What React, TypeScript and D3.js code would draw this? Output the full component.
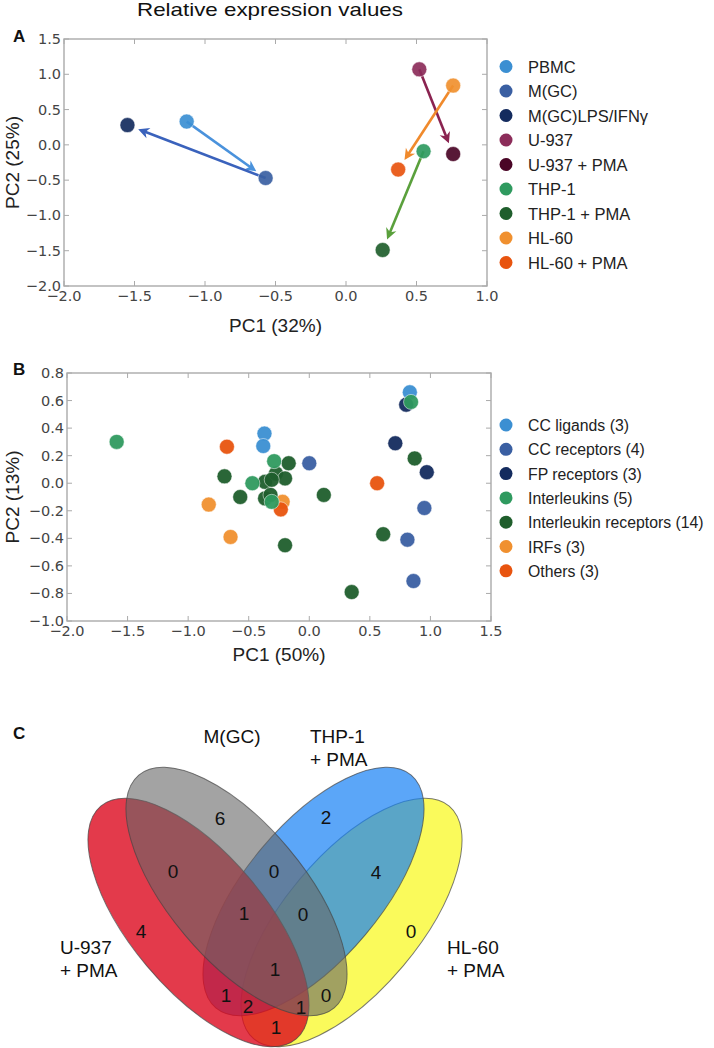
import React from "react";
import * as d3 from "d3";

// ---- panel A: PCA of samples (relative expression)
const sampleNames = [
  "PBMC",
  "M(GC)",
  "M(GC)LPS/IFNγ",
  "U-937",
  "U-937 + PMA",
  "THP-1",
  "THP-1 + PMA",
  "HL-60",
  "HL-60 + PMA"
];
const samplePC1 = [-1.13, -0.57, -1.55, 0.52, 0.76, 0.55, 0.26, 0.76, 0.37];
const samplePC2 = [0.33, -0.47, 0.28, 1.07, -0.13, -0.09, -1.49, 0.84, -0.35];
// arrows: from -> to
const sampleShifts = [
  ["PBMC", "M(GC)"],
  ["M(GC)", "M(GC)LPS/IFNγ"],
  ["U-937", "U-937 + PMA"],
  ["HL-60", "HL-60 + PMA"],
  ["THP-1", "THP-1 + PMA"]
];

// ---- panel B: PCA of genes
const geneGroups = [
  "CC ligands (3)",
  "CC receptors (4)",
  "FP receptors (3)",
  "Interleukins (5)",
  "Interleukin receptors (14)",
  "IRFs (3)",
  "Others (3)"
];
const ccLigands = [[0.83, 0.66], [-0.37, 0.36], [-0.38, 0.27]];
const ccReceptors = [[0.0, 0.145], [0.95, -0.18], [0.81, -0.41], [0.86, -0.71]];
const fpReceptors = [[0.8, 0.57], [0.71, 0.29], [0.97, 0.08]];
const interleukins = [[-1.59, 0.3], [0.84, 0.59], [-0.29, 0.16], [-0.47, 0.0], [-0.31, -0.135]];
const interleukinReceptors = [
  [-0.17, 0.145], [-0.7, 0.05], [-0.365, 0.01], [-0.275, 0.07], [-0.2, 0.035],
  [-0.57, -0.1], [-0.365, -0.11], [-0.32, -0.085], [-0.31, 0.025], [0.12, -0.085],
  [-0.2, -0.45], [0.87, 0.18], [0.61, -0.37], [0.35, -0.79]
];
const irfs = [[-0.83, -0.155], [-0.65, -0.39], [-0.22, -0.135]];
const others = [[-0.68, 0.265], [-0.235, -0.19], [0.56, 0.0]];
const geneData = [ccLigands, ccReceptors, fpReceptors, interleukins, interleukinReceptors, irfs, others];
// drawing order (later on top)
const geneDrawOrder = [0, 1, 2, 5, 6, 4, 3];

// ---- panel C: Venn
const vennSetNames = [["U-937", "+ PMA"], ["M(GC)"], ["THP-1", "+ PMA"], ["HL-60", "+ PMA"]];
const vennRegions = ["A", "B", "C", "D", "AB", "BC", "CD", "ABC", "BCD", "ABCD", "AC", "ACD", "BD", "ABD", "AD"];
const vennCounts = [4, 6, 2, 0, 0, 0, 4, 1, 0, 1, 1, 2, 0, 1, 1];

// ---- styles / layout
const sampleColors = ["#3b8fd2", "#3a5fa2", "#142b5e", "#8c2d5a", "#4a0526", "#2f9a5f", "#1f5e2c", "#f0902f", "#e8540f"];
const arrowColors = ["#4a92dc", "#3a62bc", "#8a2350", "#f08a2c", "#5aa03c"];
const groupColors = ["#3b8fd2", "#3a5fa2", "#142b5e", "#2f9a5f", "#1f5e2c", "#f0902f", "#e8540f"];

const SANS = "'Liberation Sans', Arial, Helvetica, sans-serif";
const TICKFONT = "'DejaVu Sans', sans-serif";

const A = { left: 64, right: 487, top: 39, bottom: 286 };
const B = { left: 67, right: 491, top: 373, bottom: 621 };

const fmt = d3.format(".1f");

function Frame({ box, x, y, xTicks, yTicks, xLabel, yLabel, xLabelY, letter, letterY }) {
  const tl = 5;
  const yMid = (box.top + box.bottom) / 2;
  const xMid = (box.left + box.right) / 2;
  return (
    <g>
      <rect x={box.left} y={box.top} width={box.right - box.left} height={box.bottom - box.top}
        fill="none" stroke="#aaa" strokeWidth={1.4} />
      {xTicks.map(t => (
        <g key={"xt" + t}>
          <line x1={x(t)} x2={x(t)} y1={box.bottom} y2={box.bottom - tl} stroke="#aaa" />
          <line x1={x(t)} x2={x(t)} y1={box.top} y2={box.top + tl} stroke="#aaa" />
          <text x={x(t)} y={box.bottom + 15} textAnchor="middle" fontFamily={TICKFONT} fontSize={14.5} fill="#444">
            {fmt(t)}
          </text>
        </g>
      ))}
      {yTicks.map(t => (
        <g key={"yt" + t}>
          <line x1={box.left} x2={box.left + tl} y1={y(t)} y2={y(t)} stroke="#aaa" />
          <line x1={box.right} x2={box.right - tl} y1={y(t)} y2={y(t)} stroke="#aaa" />
          <text x={box.left - 3} y={y(t) + 5} textAnchor="end" fontFamily={TICKFONT} fontSize={14.5} fill="#444">
            {fmt(t)}
          </text>
        </g>
      ))}
      <text x={xMid} y={xLabelY} textAnchor="middle" fontFamily={SANS} fontSize={19} fill="#222">{xLabel}</text>
      <text transform={`translate(19,${yMid}) rotate(-90)`} textAnchor="middle" fontFamily={SANS} fontSize={19} fill="#222">
        {yLabel}
      </text>
      <text x={13} y={letterY} fontFamily={SANS} fontWeight="bold" fontSize={17} fill="#111">{letter}</text>
    </g>
  );
}

function Legend({ items, colors, x, y0, step, fontSize }) {
  return (
    <g>
      {items.map((name, i) => (
        <g key={name}>
          <circle cx={x} cy={y0 + i * step} r={6.5} fill={colors[i]} />
          <text x={x + 22} y={y0 + i * step + 6} fontFamily={SANS} fontSize={fontSize} fill="#222">{name}</text>
        </g>
      ))}
    </g>
  );
}

function PanelA() {
  const x = d3.scaleLinear().domain([-2, 1]).range([A.left, A.right]);
  const y = d3.scaleLinear().domain([-2, 1.5]).range([A.bottom, A.top]);
  const idx = name => sampleNames.indexOf(name);
  const r = 7.5;
  return (
    <g>
      <Frame box={A} x={x} y={y} xTicks={d3.range(-2, 1.01, 0.5)} yTicks={d3.range(-2, 1.51, 0.5)}
        xLabel="PC1 (32%)" yLabel="PC2 (25%)" xLabelY={332} letter="A" letterY={42} />
      {sampleShifts.map(([from, to], k) => {
        const i = idx(from), j = idx(to);
        const x0 = x(samplePC1[i]), y0 = y(samplePC2[i]);
        const x1 = x(samplePC1[j]), y1 = y(samplePC2[j]);
        const len = Math.hypot(x1 - x0, y1 - y0);
        const ux = (x1 - x0) / len, uy = (y1 - y0) / len;
        const tipX = x1 - ux * (r + 4), tipY = y1 - uy * (r + 4);
        const hl = 11, hw = 5.5;
        const bx = tipX - ux * hl, by = tipY - uy * hl;
        const nx = -uy, ny = ux;
        const head = `M${tipX},${tipY} L${bx + nx * hw},${by + ny * hw} L${tipX - ux * hl * 0.7},${tipY - uy * hl * 0.7} L${bx - nx * hw},${by - ny * hw} Z`;
        return (
          <g key={from}>
            <line x1={x0} y1={y0} x2={tipX - ux * hl * 0.6} y2={tipY - uy * hl * 0.6}
              stroke={arrowColors[k]} strokeWidth={2.6} />
            <path d={head} fill={arrowColors[k]} />
          </g>
        );
      })}
      {sampleNames.map((n, i) => (
        <circle key={n} cx={x(samplePC1[i])} cy={y(samplePC2[i])} r={r} fill={sampleColors[i]}
          fillOpacity={0.92} stroke="#fff" strokeOpacity={0.5} strokeWidth={1} />
      ))}
      <Legend items={sampleNames} colors={sampleColors} x={506} y0={66.5} step={24.5} fontSize={16.5} />
    </g>
  );
}

function PanelB() {
  const x = d3.scaleLinear().domain([-2, 1.5]).range([B.left, B.right]);
  const y = d3.scaleLinear().domain([-1, 0.8]).range([B.bottom, B.top]);
  return (
    <g>
      <Frame box={B} x={x} y={y} xTicks={d3.range(-2, 1.51, 0.5)} yTicks={d3.range(-1, 0.81, 0.2)}
        xLabel="PC1 (50%)" yLabel="PC2 (13%)" xLabelY={661} letter="B" letterY={375} />
      {geneDrawOrder.map(g => (
        <g key={g}>
          {geneData[g].map((p, i) => (
            <circle key={i} cx={x(p[0])} cy={y(p[1])} r={7.5} fill={groupColors[g]} fillOpacity={0.95}
              stroke="#fff" strokeOpacity={0.5} strokeWidth={1} />
          ))}
        </g>
      ))}
      <Legend items={geneGroups} colors={groupColors} x={506} y0={425} step={24.3} fontSize={15.8} />
    </g>
  );
}

// venn layout (pixels relative to the venn origin)
const vennOrigin = [275, 900];
const ellipseA = 152, ellipseB = 67.5;
const ellipses = [
  { cx: -76.5, cy: 22.5, rot: 50, fill: "#dc091e", op: 0.8 },
  { cx: -38.5, cy: -8.5, rot: 50, fill: "#666666", op: 0.6 },
  { cx: 38.5, cy: -8.5, rot: -50, fill: "#1680f5", op: 0.7 },
  { cx: 76.5, cy: 22.5, rot: -50, fill: "#f8f816", op: 0.7 }
];
const ellipseDrawOrder = [3, 2, 0, 1];
const regionPos = {
  A: [-134, 31], B: [-55, -82], C: [51, -83], D: [136, 31],
  AB: [-102, -29], BC: [-1, -29], CD: [101, -28],
  ABC: [-31, 13], BCD: [28, 14], ABCD: [0, 69],
  AC: [-49, 95], ACD: [-27, 106], BD: [51, 95], ABD: [26, 107], AD: [1, 127]
};
const setLabelPos = [[60, 954, "start"], [232, 743, "middle"], [310, 743, "start"], [447, 954, "start"]];

function PanelC() {
  const [ox, oy] = vennOrigin;
  return (
    <g>
      <text x={13} y={739} fontFamily={SANS} fontWeight="bold" fontSize={17} fill="#111">C</text>
      <g transform={`translate(${ox},${oy})`}>
        {ellipseDrawOrder.map(k => {
          const e = ellipses[k];
          return (
            <ellipse key={k} cx={0} cy={0} rx={ellipseA} ry={ellipseB}
              transform={`translate(${e.cx},${e.cy}) rotate(${e.rot})`}
              fill={e.fill} fillOpacity={e.op} stroke="#444" strokeOpacity={0.7} strokeWidth={1} />
          );
        })}
        {vennRegions.map((reg, i) => (
          <text key={reg} x={regionPos[reg][0]} y={regionPos[reg][1] + 7} textAnchor="middle"
            fontFamily={SANS} fontSize={19} fill="#111">
            {vennCounts[i]}
          </text>
        ))}
      </g>
      {vennSetNames.map((lines, k) => (
        <text key={k} x={setLabelPos[k][0]} y={setLabelPos[k][1]} textAnchor={setLabelPos[k][2]}
          fontFamily={SANS} fontSize={19} fill="#111">
          {lines.map((ln, j) => (
            <tspan key={j} x={setLabelPos[k][0]} dy={j === 0 ? 0 : 23}>{ln}</tspan>
          ))}
        </text>
      ))}
    </g>
  );
}

export default function App() {
  return (
    <svg width={714} height={1048} style={{ position: "absolute", left: 0, top: 0, background: "#fff" }}>
      <rect width={714} height={1048} fill="#fff" />
      <text x={270} y={16} textAnchor="middle" fontFamily={SANS} fontSize={19} fill="#111"
        textLength={266} lengthAdjust="spacingAndGlyphs">
        Relative expression values
      </text>
      <PanelA />
      <PanelB />
      <PanelC />
    </svg>
  );
}
